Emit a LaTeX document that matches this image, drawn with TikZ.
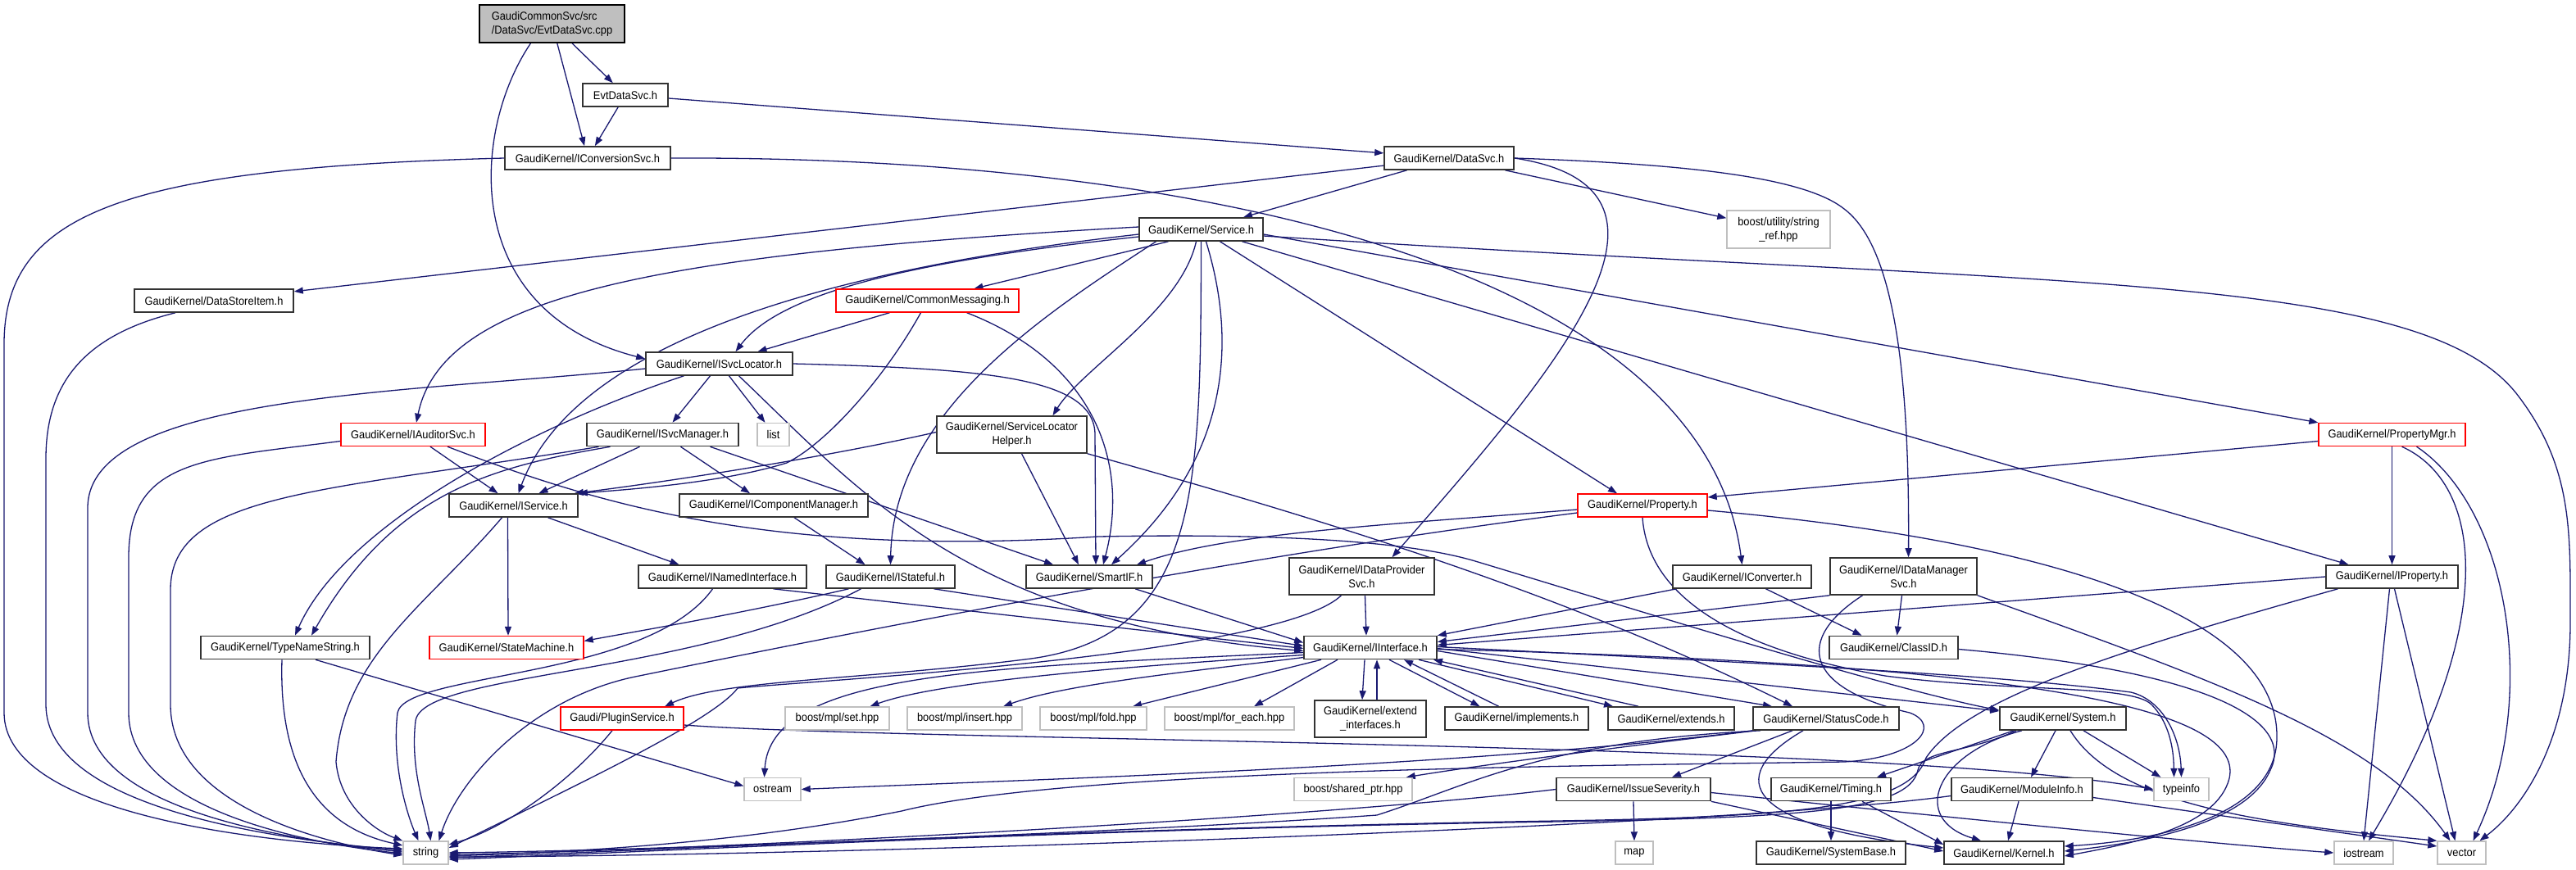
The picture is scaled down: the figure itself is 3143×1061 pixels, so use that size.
\documentclass[tikz,border=0pt]{standalone}
\usepackage{fontspec}
\setmainfont{Liberation Sans}[FakeStretch=0.92]
\usetikzlibrary{arrows.meta}
\definecolor{edgeblue}{RGB}{25,25,112}
\definecolor{lgray}{RGB}{191,191,191}
\pgfdeclarelayer{bg}
\pgfsetlayers{bg,main}
\tikzset{
  boxb/.style={draw=black!80, line width=1.6pt, fill=white, inner sep=0pt, minimum height=28pt, align=center, font=\fontsize{14}{17}\selectfont},
  boxr/.style={boxb, draw=red, line width=1.4pt},
  boxg/.style={boxb, draw=lgray, line width=1.4pt},
  edg/.style={edgeblue, line width=1.3pt, -{Triangle[length=11pt,width=8pt]}},
}
\begin{document}
\begin{tikzpicture}[x=1pt,y=-1pt]
\useasboundingbox (0,0) rectangle (3143,1061);
% ---------------- nodes
\node[boxb, fill=lgray, draw=black, minimum width=177pt, minimum height=46pt, align=left] (cpp) at (673.5,29) {GaudiCommonSvc/src\\/DataSvc/EvtDataSvc.cpp};
\node[boxb, minimum width=104pt] (evth) at (763,116) {EvtDataSvc.h};
\node[boxb, minimum width=202pt] (iconv) at (717,193) {GaudiKernel/IConversionSvc.h};
\node[boxb, minimum width=158pt] (datasvc) at (1768,193) {GaudiKernel/DataSvc.h};
\node[boxg, minimum width=126pt, minimum height=46pt] (stringref) at (2170,280) {boost/utility/string\\\_ref.hpp};
\node[boxb, minimum width=151pt] (service) at (1465.5,280) {GaudiKernel/Service.h};
\node[boxb, minimum width=194pt] (datastore) at (261,367) {GaudiKernel/DataStoreItem.h};
\node[boxr, minimum width=223pt] (commsg) at (1131.5,367) {GaudiKernel/CommonMessaging.h};
\node[boxb, minimum width=179pt] (isvcloc) at (877.5,444) {GaudiKernel/ISvcLocator.h};
\node[boxr, minimum width=176pt] (iauditor) at (504,530.5) {GaudiKernel/IAuditorSvc.h};
\node[boxb, minimum width=185pt] (isvcman) at (808.5,530.5) {GaudiKernel/ISvcManager.h};
\node[boxg, minimum width=39pt] (list) at (943.5,530.5) {list};
\node[boxb, minimum width=183pt, minimum height=45pt] (slh) at (1234.5,530.5) {GaudiKernel/ServiceLocator\\Helper.h};
\node[boxr, minimum width=179pt] (propmgr) at (2918.5,530.5) {GaudiKernel/PropertyMgr.h};
\node[boxb, minimum width=157pt] (iservice) at (626.5,617) {GaudiKernel/IService.h};
\node[boxb, minimum width=230pt] (icompmgr) at (944,617) {GaudiKernel/IComponentManager.h};
\node[boxr, minimum width=158pt] (property) at (2004,617) {GaudiKernel/Property.h};
\node[boxb, minimum width=205pt] (inamed) at (881.5,704) {GaudiKernel/INamedInterface.h};
\node[boxb, minimum width=157pt] (istateful) at (1086.5,704) {GaudiKernel/IStateful.h};
\node[boxb, minimum width=154pt] (smartif) at (1329,704) {GaudiKernel/SmartIF.h};
\node[boxb, minimum width=177pt, minimum height=45pt] (idataprov) at (1661.5,703.5) {GaudiKernel/IDataProvider\\Svc.h};
\node[boxb, minimum width=169pt] (iconverter) at (2125.5,704) {GaudiKernel/IConverter.h};
\node[boxb, minimum width=179pt, minimum height=45pt] (idataman) at (2322.5,703.5) {GaudiKernel/IDataManager\\Svc.h};
\node[boxb, minimum width=161pt] (iproperty) at (2918.5,704) {GaudiKernel/IProperty.h};
\node[boxb, minimum width=206pt] (typename) at (348,790.5) {GaudiKernel/TypeNameString.h};
\node[boxr, minimum width=188pt] (statemachine) at (618,790.5) {GaudiKernel/StateMachine.h};
\node[boxb, minimum width=162pt] (iinterface) at (1672,790.5) {GaudiKernel/IInterface.h};
\node[boxb, minimum width=157pt] (classid) at (2310.5,790.5) {GaudiKernel/ClassID.h};
\node[boxr, minimum width=150pt] (plugin) at (759,877) {Gaudi/PluginService.h};
\node[boxg, minimum width=127pt] (mplset) at (1021.5,877) {boost/mpl/set.hpp};
\node[boxg, minimum width=140pt] (mplinsert) at (1177,877) {boost/mpl/insert.hpp};
\node[boxg, minimum width=130pt] (mplfold) at (1334,877) {boost/mpl/fold.hpp};
\node[boxg, minimum width=158pt] (mplforeach) at (1500,877) {boost/mpl/for\_each.hpp};
\node[boxb, minimum width=136pt, minimum height=45pt] (extendif) at (1672,877.5) {GaudiKernel/extend\\\_interfaces.h};
\node[boxb, minimum width=175pt] (implements) at (1850.5,877) {GaudiKernel/implements.h};
\node[boxb, minimum width=154pt] (extends) at (2039,877) {GaudiKernel/extends.h};
\node[boxb, minimum width=178pt] (statuscode) at (2228,877) {GaudiKernel/StatusCode.h};
\node[boxb, minimum width=154pt] (system) at (2517,877) {GaudiKernel/System.h};
\node[boxg, minimum width=69pt] (ostream) at (942.5,963.5) {ostream};
\node[boxg, minimum width=144pt] (sharedptr) at (1651,963.5) {boost/shared\_ptr.hpp};
\node[boxb, minimum width=188pt] (issue) at (1993,963.5) {GaudiKernel/IssueSeverity.h};
\node[boxb, minimum width=146pt] (timing) at (2234,963.5) {GaudiKernel/Timing.h};
\node[boxb, minimum width=172pt] (moduleinfo) at (2467,963.5) {GaudiKernel/ModuleInfo.h};
\node[boxg, minimum width=67pt] (typeinfo) at (2661.5,963.5) {typeinfo};
\node[boxg, minimum width=55pt] (string) at (519.5,1041) {string};
\node[boxg, minimum width=46pt] (map) at (1994,1041) {map};
\node[boxb, minimum width=182pt] (systembase) at (2234,1041) {GaudiKernel/SystemBase.h};
\node[boxb, minimum width=146pt] (kernel) at (2445,1041) {GaudiKernel/Kernel.h};
\node[boxg, minimum width=72pt] (iostream) at (2884,1041) {iostream};
\node[boxg, minimum width=59pt] (vector) at (3003.5,1041) {vector};
% ---------------- edges
\begin{pgfonlayer}{bg}
% root
\draw[edg] (cpp) -- (evth);
\draw[edg] (cpp) -- (iconv);
\draw[edg] ([xshift=-26pt]cpp.south) .. controls (575,160) and (560,380) .. ([yshift=6pt]isvcloc.west);
\draw[edg] (evth) -- (iconv);
\draw[edg] (evth) -- (datasvc);
% IConversionSvc
\draw[edg] (iconv.west) .. controls (150,205) and (5,260) .. (5,420) -- (5,870) .. controls (5,990) and (300,1028) .. ([yshift=5pt]string.west);
\draw[edg] (iconv.east) .. controls (1500,190) and (2080,340) .. (iconverter.north);
% DataSvc
\draw[edg] (datasvc) -- (service);
\draw[edg] (datasvc) -- (datastore);
\draw[edg] (datasvc) -- (stringref);
\draw[edg] (datasvc.east) .. controls (2090,230) and (1900,450) .. ([xshift=37pt]idataprov.north);
\draw[edg] (datasvc.east) .. controls (2050,200) and (2200,215) .. (2250,255) .. controls (2310,300) and (2330,450) .. ([xshift=6pt]idataman.north);
% DataStoreItem
\draw[edg] ([xshift=-47pt]datastore.south) .. controls (100,410) and (56,470) .. (56,560) -- (56,860) .. controls (56,985) and (330,1024) .. ([yshift=3pt]string.west);
% Service
\draw[edg] ([yshift=3pt]service.west) .. controls (800,310) and (540,360) .. ([xshift=4pt]iauditor.north);
\draw[edg] ([yshift=-6pt]service.west) .. controls (1000,330) and (700,420) .. ([xshift=6pt]iservice.north);
\draw[edg] ([yshift=-9pt]service.west) .. controls (1100,320) and (950,360) .. ([xshift=20pt]isvcloc.north);
\draw[edg] ([xshift=-40pt]service.south) -- ([xshift=57pt]commsg.north);
\draw[edg] ([xshift=-55pt]service.south) .. controls (1280,380) and (1090,500) .. (istateful.north);
\draw[edg] ([xshift=-6pt]service.south) .. controls (1440,380) and (1320,450) .. ([xshift=50pt]slh.north);
\draw[edg] (service.south) .. controls (1465,600) and (1465,780) .. (1250,805) .. controls (1050,830) and (880,830) .. ([xshift=52pt]plugin.north);
\draw[edg] ([xshift=6pt]service.south) .. controls (1510,420) and (1500,560) .. ([xshift=27pt]smartif.north);
\draw[edg] ([xshift=23pt]service.south) -- ([xshift=-31pt]property.north);
\draw[edg] ([xshift=50pt]service.south) -- ([xshift=-53pt]iproperty.north);
\draw[edg] ([yshift=-6pt]service.east) -- (propmgr.north west);
\draw[edg] ([yshift=-8pt]service.east) .. controls (2500,350) and (2950,330) .. (3070,480) .. controls (3140,570) and (3136,650) .. (3136,760) .. controls (3136,900) and (3080,985) .. ([xshift=22pt]vector.north);
% CommonMessaging
\draw[edg] ([xshift=-46pt]commsg.south) -- ([xshift=47pt]isvcloc.north);
\draw[edg] ([xshift=-8pt]commsg.south) .. controls (1080,460) and (1010,540) .. (960,565) .. controls (880,590) and (760,598) .. (iservice.north east);
\draw[edg] ([xshift=48pt]commsg.south) .. controls (1330,440) and (1380,560) .. ([xshift=17pt]smartif.north);
% ISvcLocator
\draw[edg] ([xshift=-11pt]isvcloc.south) -- ([xshift=12pt]isvcman.north);
\draw[edg] ([xshift=12pt]isvcloc.south) -- ([xshift=-10pt]list.north);
\draw[edg] ([xshift=24pt]isvcloc.south) .. controls (1050,600) and (1180,760) .. ([yshift=-4pt]iinterface.west);
\draw[edg] (isvcloc.east) .. controls (1200,450) and (1335,460) .. (1336,530) -- ([xshift=8pt]smartif.north);
\draw[edg] ([xshift=-43pt]isvcloc.south) .. controls (650,520) and (420,640) .. ([xshift=12pt]typename.north);
\draw[edg] ([yshift=-6pt]isvcloc.west) .. controls (500,480) and (107,480) .. (107,620) -- (107,870) .. controls (107,990) and (360,1026) .. ([yshift=1pt]string.west);
% IAuditorSvc
\draw[edg] ([yshift=-8pt]iauditor.west) .. controls (250,560) and (157,560) .. (157,680) -- (157,870) .. controls (157,990) and (380,1030) .. ([yshift=-1pt]string.west);
\draw[edg] ([xshift=21pt]iauditor.south) -- ([xshift=-19pt]iservice.north);
\draw[edg] ([xshift=42pt]iauditor.south) .. controls (740,620) and (950,680) .. (1340,655) .. controls (1500,652) and (1700,655) .. (1800,685) .. controls (1950,730) and (2300,840) .. ([yshift=10pt]system.west);
% ISvcManager
\draw[edg] ([xshift=-78pt]isvcman.south) .. controls (400,600) and (208,600) .. (208,720) -- (208,860) .. controls (208,985) and (400,1030) .. ([yshift=-3pt]string.west);
\draw[edg] ([xshift=-64pt]isvcman.south) .. controls (600,570) and (480,600) .. ([xshift=32pt]typename.north);
\draw[edg] ([xshift=-28pt]isvcman.south) -- ([xshift=31pt]iservice.north);
\draw[edg] ([xshift=22pt]isvcman.south) -- ([xshift=-29pt]icompmgr.north);
\draw[edg] ([xshift=58pt]isvcman.south) -- ([xshift=-44pt]smartif.north);
% ServiceLocatorHelper
\draw[edg] ([yshift=3pt]slh.west) .. controls (1000,560) and (800,590) .. ([xshift=-5pt]iservice.north east);
\draw[edg] ([xshift=12pt]slh.south) -- ([xshift=-13pt]smartif.north);
\draw[edg] (slh.south east) .. controls (1600,630) and (1900,720) .. ([xshift=-41pt]statuscode.north);
% IService
\draw[edg] ([xshift=42pt]iservice.south) -- ([xshift=-53pt]inamed.north);
\draw[edg] ([xshift=-7pt]iservice.south) -- ([xshift=2pt]statemachine.north);
\draw[edg] ([xshift=-14pt]iservice.south) .. controls (520,740) and (420,800) .. (410,930) .. controls (415,985) and (460,1015) .. (string.north west);
% IComponentManager
\draw[edg] ([xshift=25pt]icompmgr.south) -- ([xshift=-31pt]istateful.north);
% INamedInterface
\draw[edg] ([xshift=62pt]inamed.south) -- ([yshift=-1pt]iinterface.west);
\draw[edg] ([xshift=-12pt]inamed.south) .. controls (790,830) and (495,820) .. (485,870) .. controls (478,930) and (495,990) .. ([xshift=-9pt]string.north);
% IStateful
\draw[edg] ([xshift=53pt]istateful.south) -- ([yshift=2pt]iinterface.west);
\draw[edg] ([xshift=-51pt]istateful.south) .. controls (900,750) and (780,770) .. ([yshift=8pt]statemachine.east);
\draw[edg] ([xshift=-36pt]istateful.south) .. controls (850,825) and (515,820) .. (507,880) .. controls (500,940) and (520,990) .. ([xshift=6pt]string.north);
% SmartIF
\draw[edg] ([xshift=56pt]smartif.south) -- ([yshift=6pt]iinterface.west);
% IDataProviderSvc
\draw[edg] ([xshift=4pt]idataprov.south) -- ([xshift=-5pt]iinterface.north);
\draw[edg] ([xshift=-25pt]idataprov.south) .. controls (1560,800) and (1000,830) .. (900,840) .. controls (870,880) and (700,960) .. ([yshift=6pt]string.east);
% IConverter
\draw[edg] ([xshift=-80pt]iconverter.south) -- (iinterface.north east);
\draw[edg] ([xshift=29pt]iconverter.south) -- ([xshift=-39pt]classid.north);
% IDataManagerSvc
\draw[edg] (idataman.south west) -- ([yshift=7pt]iinterface.east);
\draw[edg] ([xshift=-2pt]idataman.south) -- ([xshift=4pt]classid.north);
\draw[edg] (idataman.south east) .. controls (2700,830) and (2900,900) .. ([xshift=-14pt]vector.north);
\draw[edg] ([xshift=-50pt]idataman.south) .. controls (2190,780) and (2200,840) .. (2330,870) .. controls (2370,885) and (2340,925) .. (2250,930) .. controls (1900,935) and (1300,940) .. (1100,990) .. controls (900,1030) and (700,1040) .. ([yshift=-4pt]string.east);
% IProperty
\draw[edg] (iproperty.west) -- ([yshift=3pt]iinterface.east);
\draw[edg] ([xshift=-3pt]iproperty.south) -- (iostream.north);
\draw[edg] ([xshift=3pt]iproperty.south) -- ([xshift=-8pt]vector.north);
\draw[edg] ([xshift=-66pt]iproperty.south) .. controls (2600,790) and (2400,850) .. (2350,925) .. controls (2330,985) and (2200,997) .. (1900,1002) .. controls (1300,1012) and (800,1038) .. ([yshift=-6pt]string.east);
% PropertyMgr
\draw[edg] ([yshift=-8pt]propmgr.west) -- ([yshift=10pt]property.east);
\draw[edg] (propmgr.south) -- (iproperty.north);
\draw[edg] ([xshift=12pt]propmgr.south) .. controls (3030,590) and (3050,760) .. ([xshift=6pt]iostream.north);
\draw[edg] ([xshift=30pt]propmgr.south) .. controls (3060,620) and (3100,850) .. ([xshift=14pt]vector.north);
% Property
\draw[edg] ([yshift=-5pt]property.west) .. controls (1700,640) and (1500,650) .. ([xshift=58pt]smartif.north);
\draw[edg] ([yshift=-9pt]property.west) .. controls (1500,680) and (1000,780) .. (780,825) .. controls (650,850) and (560,950) .. ([xshift=16pt]string.north);
\draw[edg] (property.south) .. controls (2010,720) and (2100,790) .. (2300,825) .. controls (2450,845) and (2600,835) .. (2625,860) .. controls (2645,880) and (2652,910) .. ([xshift=-9pt]typeinfo.north);
\draw[edg] ([yshift=-6pt]property.east) .. controls (2500,660) and (2780,750) .. (2778,900) .. controls (2778,990) and (2650,1025) .. ([yshift=8pt]kernel.east);
% IInterface
\draw[edg] ([xshift=-7pt]iinterface.south) -- ([xshift=-10pt]extendif.north);
\draw[edg] ([xshift=8pt]extendif.north) -- ([xshift=8pt]iinterface.south);
\draw[edg] ([xshift=23pt]iinterface.south) -- ([xshift=-45pt]implements.north);
\draw[edg] ([xshift=-22pt]implements.north) -- ([xshift=41pt]iinterface.south);
\draw[edg] ([xshift=59pt]iinterface.south) -- ([xshift=-71pt]extends.north);
\draw[edg] ([xshift=-40pt]extends.north) -- ([xshift=77pt]iinterface.south);
\draw[edg] ([yshift=-4pt]iinterface.east) -- ([xshift=-66pt]statuscode.north);
\draw[edg] ([yshift=-1pt]iinterface.east) -- ([yshift=9pt]system.west);
\draw[edg] ([yshift=1pt]iinterface.east) .. controls (2200,812) and (2450,825) .. (2600,845) .. controls (2640,855) and (2660,900) .. (typeinfo.north);
\draw[edg] ([yshift=-2pt]iinterface.east) .. controls (2450,810) and (2740,860) .. (2720,950) .. controls (2705,1010) and (2600,1030) .. ([yshift=-4pt]kernel.east);
\draw[edg] ([yshift=-6pt]iinterface.west) .. controls (1200,815) and (940,820) .. ([xshift=-10pt]ostream.north);
\draw[edg] ([yshift=-9pt]iinterface.west) .. controls (1400,812) and (1150,830) .. ([xshift=40pt]mplset.north);
\draw[edg] ([yshift=-12pt]iinterface.west) .. controls (1450,820) and (1300,835) .. ([xshift=47pt]mplinsert.north);
\draw[edg] ([xshift=-60pt]iinterface.south) -- ([xshift=48pt]mplfold.north);
\draw[edg] ([xshift=-40pt]iinterface.south) -- ([xshift=30pt]mplforeach.north);
% StatusCode
\draw[edg] ([xshift=-41pt]statuscode.south) -- ([xshift=47pt]issue.north);
\draw[edg] ([xshift=-28pt]statuscode.south) .. controls (2100,950) and (2130,1010) .. ([yshift=6pt]kernel.west);
\draw[edg] ([xshift=-80pt]statuscode.south) .. controls (1880,905) and (1790,960) .. (1680,995) .. controls (1400,1015) and (800,1038) .. (string.east);
\draw[edg] ([xshift=-85pt]statuscode.south) .. controls (1950,915) and (1800,935) .. ([xshift=-8pt]sharedptr.north east);
\draw[edg] (statuscode.south west) .. controls (1800,935) and (1300,950) .. (ostream.east);
% IssueSeverity
\draw[edg] (issue.south) -- (map.north);
\draw[edg] (issue.south east) -- ([yshift=2pt]kernel.west);
\draw[edg] ([yshift=-4pt]issue.east) .. controls (2400,1000) and (2700,1030) .. (iostream.west);
\draw[edg] (issue.west) .. controls (1600,1000) and (800,1040) .. ([yshift=-2pt]string.east);
% Timing
\draw[edg] ([xshift=38pt]timing.south) -- ([yshift=10pt]kernel.west);
\draw[edg] (timing.south) -- (systembase.north);
% System
\draw[edg] ([xshift=-60pt]system.south) -- ([xshift=56pt]timing.north);
\draw[edg] ([xshift=-50pt]system.south) .. controls (2360,920) and (2330,1000) .. ([xshift=-28pt]kernel.north);
\draw[edg] ([xshift=-9pt]system.south) -- ([xshift=11pt]moduleinfo.north);
\draw[edg] ([xshift=25pt]system.south) -- ([xshift=-25pt]typeinfo.north);
\draw[edg] ([xshift=9pt]system.south) .. controls (2580,980) and (2750,1005) .. (vector.north west);
\draw[edg] ([xshift=-57pt]system.south) .. controls (2400,920) and (2345,915) .. (2340,940) .. controls (2330,990) and (2200,998) .. (1900,1003) .. controls (1300,1012) and (800,1040) .. ([yshift=-8pt]string.east);
% ModuleInfo
\draw[edg] ([xshift=-4pt]moduleinfo.south) -- ([xshift=5pt]kernel.north);
\draw[edg] ([yshift=-10pt]moduleinfo.east) -- ([yshift=8pt]vector.west);
\draw[edg] ([yshift=-8pt]moduleinfo.west) .. controls (2100,1010) and (1000,1045) .. ([yshift=-5pt]string.east);
% ClassID
\draw[edg] ([yshift=-2pt]classid.east) .. controls (2700,820) and (2800,880) .. (2770,940) .. controls (2740,1010) and (2600,1030) .. ([yshift=2pt]kernel.east);
% PluginService
\draw[edg] ([xshift=-12pt]plugin.south) .. controls (700,950) and (620,1010) .. ([yshift=10pt]string.east);
\draw[edg] ([yshift=-8pt]plugin.east) .. controls (1100,905) and (2300,905) .. (typeinfo.west);
% TypeNameString
\draw[edg] ([xshift=-4pt]typename.south) .. controls (340,940) and (390,1010) .. ([yshift=9pt]string.west);
\draw[edg] ([xshift=37pt]typename.south) -- ([yshift=4pt]ostream.west);
\end{pgfonlayer}
\end{tikzpicture}
\end{document}
